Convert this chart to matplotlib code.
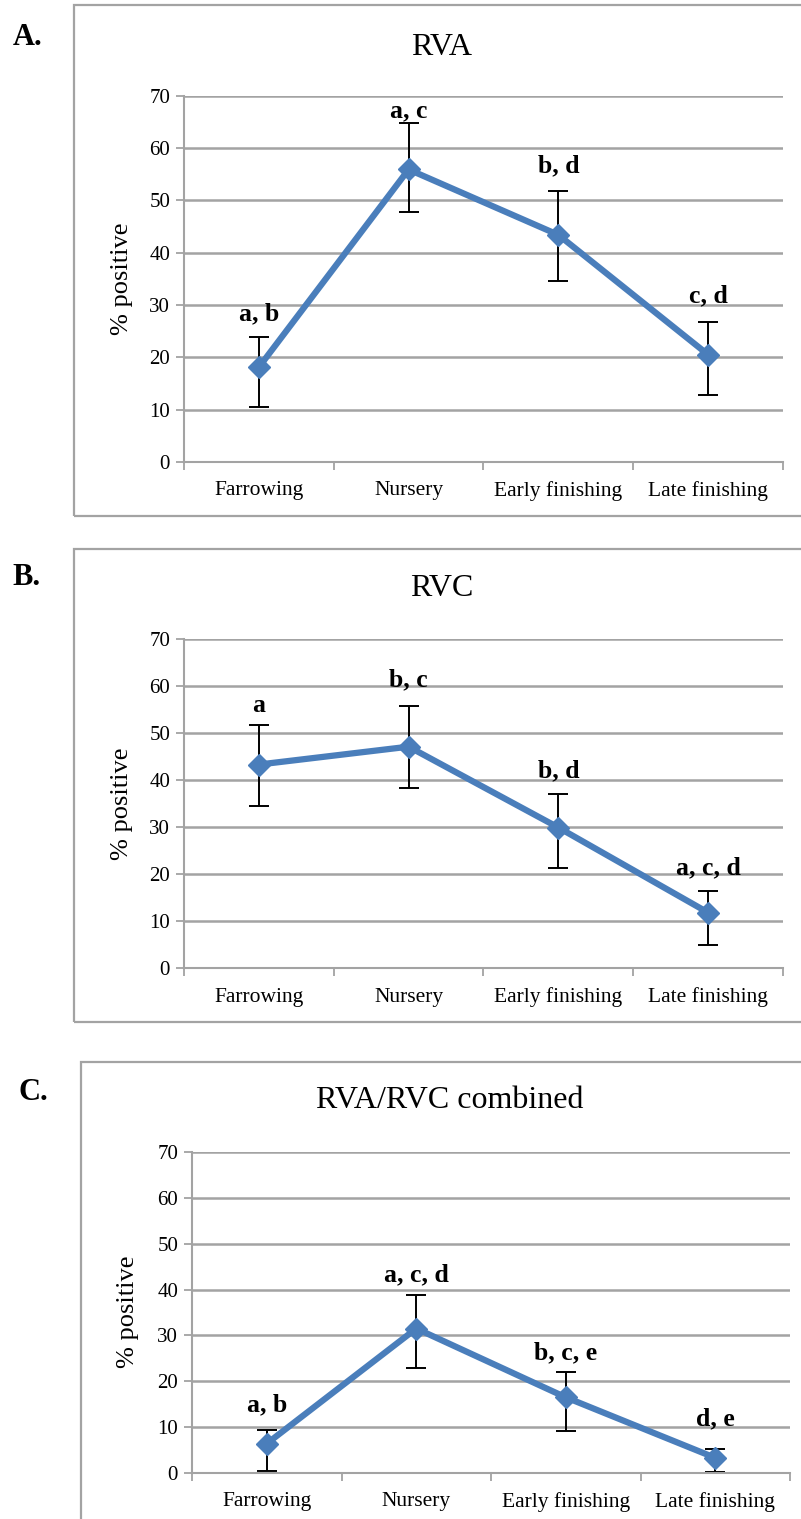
#/usr/bin/python3

import matplotlib.pyplot as plt
import matplotlib.patches as patches
import numpy as np

""" END IMPORTS """

plt.rcParams['font.family'] = ['Liberation Serif', 'DejaVu Serif']

# data

stages = ['Farrowing', 'Nursery', 'Early finishing', 'Late finishing']

rva = [18.1, 55.9, 43.4, 20.5]
rva_lo = [10.5, 47.7, 34.6, 12.7]
rva_hi = [23.9, 64.7, 51.7, 26.7]
rva_letters = ['a, b', 'a, c', 'b, d', 'c, d']
rva_lab_y = [27.1, 65.9, 55.3, 30.5]

rvc = [43.3, 47.1, 29.9, 11.8]
rvc_lo = [34.5, 38.4, 21.3, 4.9]
rvc_hi = [51.7, 55.7, 37.1, 16.4]
rvc_letters = ['a', 'b, c', 'b, d', 'a, c, d']
rvc_lab_y = [54.5, 59.9, 40.5, 19.9]

comb = [6.4, 31.5, 16.5, 3.3]
comb_lo = [0.5, 23.0, 9.1, 0.2]
comb_hi = [9.4, 38.9, 22.0, 5.3]
comb_letters = ['a, b', 'a, c, d', 'b, c, e', 'd, e']
comb_lab_y = [13.4, 41.7, 24.7, 10.5]

yticks = [0, 10, 20, 30, 40, 50, 60, 70]

# Plot

fig = plt.figure(figsize=(8.01, 15.19), dpi=100)

grey = '#a3a3a3'
blue = '#4a7ebb'


def panel(rect, vals, lo, hi, letters, lab_y):
    ax = fig.add_axes(rect)
    x = np.arange(len(stages))
    vals = np.array(vals)
    err = [vals - np.array(lo), np.array(hi) - vals]
    ax.errorbar(x, vals, yerr=err, fmt='none', ecolor='black',
                elinewidth=1.4, capsize=7.5, capthick=1.4, zorder=2)
    ax.plot(x, vals, color=blue, lw=4.5, marker='D', markersize=11.5,
            zorder=3)
    for xi, t, ly in zip(x, letters, lab_y):
        ax.text(xi, ly, t, ha='center', va='baseline', fontsize=18.5,
                fontweight='bold')
    ax.set_xlim(-0.5, 3.5)
    ax.set_ylim(0, 70)
    ax.set_yticks(yticks)
    ax.set_xticks(x)
    ax.set_xticklabels(stages, fontsize=15.5)
    ax.set_xticks(np.arange(-0.5, 4, 1), minor=True)
    ax.tick_params(axis='x', which='major', length=0, pad=14)
    ax.tick_params(axis='x', which='minor', length=6, width=1.3,
                   color=grey, direction='out')
    ax.tick_params(axis='y', length=6, width=1.3, color=grey,
                   labelsize=15, pad=4)
    ax.yaxis.grid(True, color=grey, lw=1.8)
    ax.set_axisbelow(True)
    for s in ['top', 'right']:
        ax.spines[s].set_visible(False)
    for s in ['left', 'bottom']:
        ax.spines[s].set_color(grey)
        ax.spines[s].set_linewidth(1.5)
    return ax


def box(x0, y0, y1):
    r = patches.Rectangle((x0, y0), 1.05 - x0, y1 - y0, fill=False,
                          edgecolor=grey, lw=1.6, transform=fig.transFigure,
                          clip_on=False)
    fig.add_artist(r)


# panel A
box(0.0924, 0.6603, 0.9967)
panel([0.2297, 0.6959, 0.7478, 0.2411], rva, rva_lo, rva_hi,
      rva_letters, rva_lab_y)
fig.text(0.551, 0.969, 'RVA', ha='center', va='center', fontsize=23)
fig.text(0.016, 0.9756, 'A.', ha='left', va='center', fontsize=22,
         fontweight='bold')
fig.text(0.152, 0.8164, '% positive', ha='center', va='center',
         rotation=90, fontsize=19)

# panel B
box(0.0924, 0.3272, 0.6386)
panel([0.2297, 0.3627, 0.7478, 0.2166], rvc, rvc_lo, rvc_hi,
      rvc_letters, rvc_lab_y)
fig.text(0.552, 0.6129, 'RVC', ha='center', va='center', fontsize=23)
fig.text(0.016, 0.6195, 'B.', ha='left', va='center', fontsize=22,
         fontweight='bold')
fig.text(0.152, 0.4710, '% positive', ha='center', va='center',
         rotation=90, fontsize=19)

# panel C
box(0.1011, -0.05, 0.3009)
panel([0.2397, 0.0303, 0.7466, 0.2113], comb, comb_lo, comb_hi,
      comb_letters, comb_lab_y)
fig.text(0.561, 0.2758, 'RVA/RVC combined', ha='center', va='center',
         fontsize=23)
fig.text(0.023, 0.2811, 'C.', ha='left', va='center', fontsize=22,
         fontweight='bold')
fig.text(0.160, 0.1362, '% positive', ha='center', va='center',
         rotation=90, fontsize=19)

# Save the plot

fig.savefig('out.png', dpi=100)
